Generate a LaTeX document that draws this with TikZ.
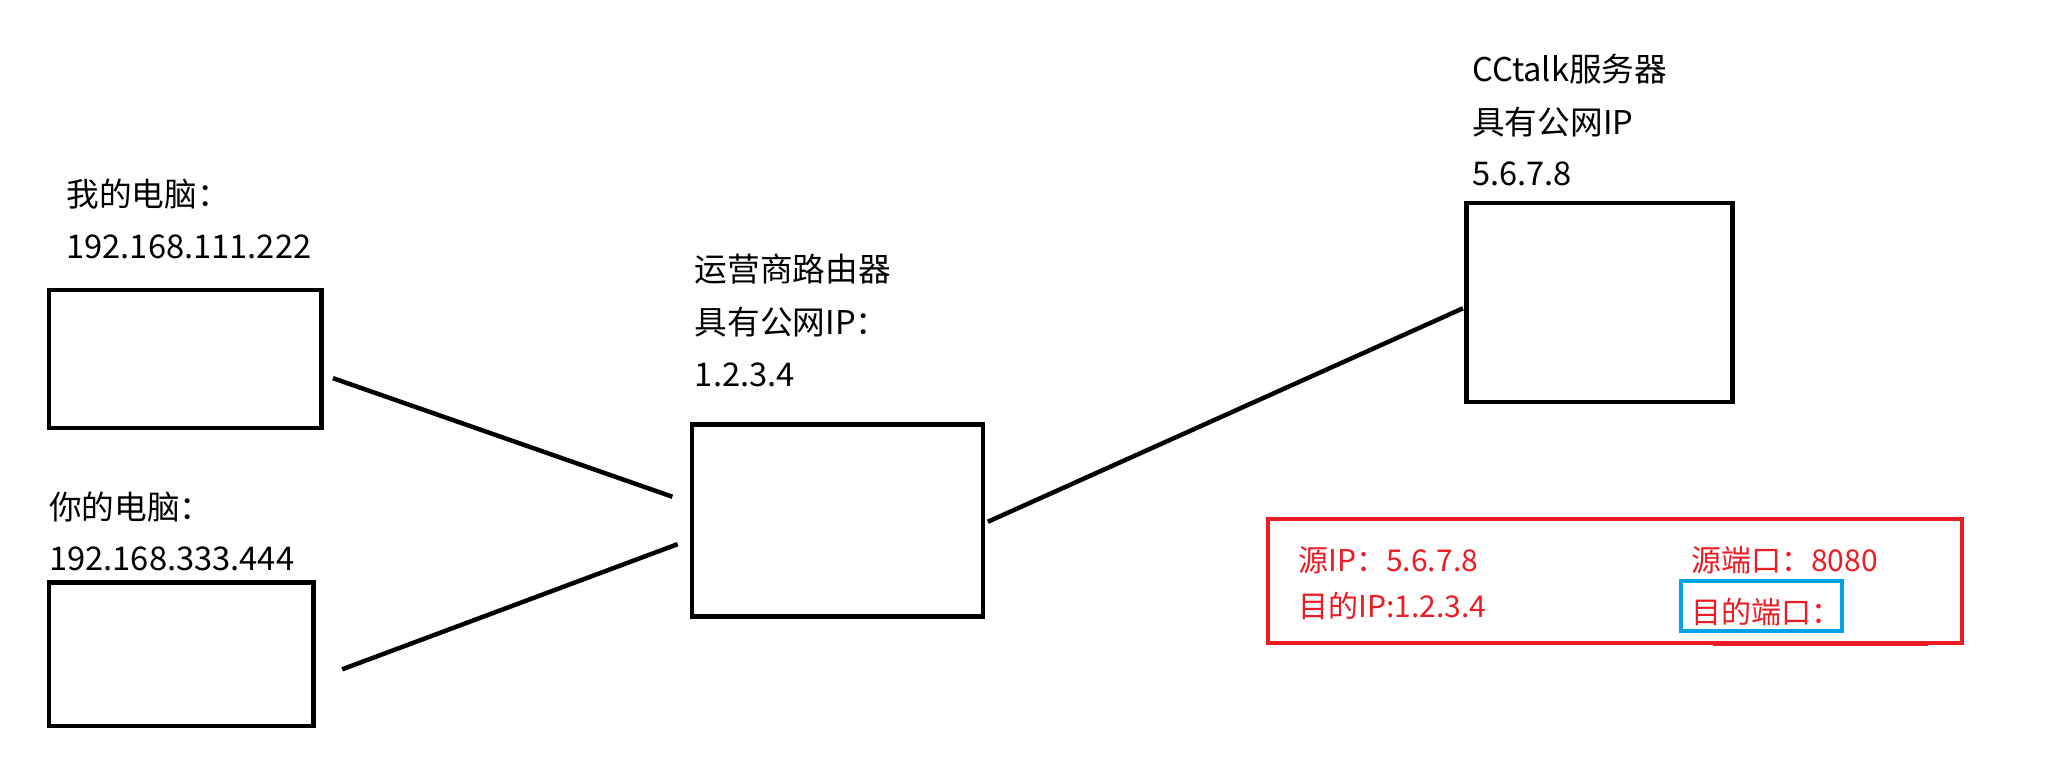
\documentclass[tikz,border=0pt]{standalone}
\usepackage{fontspec}
\setmainfont{Noto Sans CJK SC}
\definecolor{redc}{RGB}{237,28,36}
\definecolor{bluec}{RGB}{0,162,232}
\begin{document}
\begin{tikzpicture}[x=0.5pt,y=-0.5pt,
  box/.style={draw=black, line width=1.7pt, inner sep=0pt},
  lbl/.style={anchor=base west, inner sep=0pt, font=\fontsize{12.4}{14}\selectfont},
  redlbl/.style={anchor=base west, inner sep=0pt, font=\fontsize{11.4}{13}\selectfont, text=redc},
  link/.style={line width=1.7pt}]
\useasboundingbox[fill=white] (0,0) rectangle (1568,581);
% boxes
\node[box, minimum width=103.5pt, minimum height=52.5pt] (pc1) at (140.5,272.5) {};
\node[box, minimum width=100.5pt, minimum height=54.5pt] (pc2) at (137.5,496.5) {};
\node[box, minimum width=110.5pt, minimum height=73pt] (router) at (635.5,395) {};
\node[box, minimum width=101pt, minimum height=75.5pt] (server) at (1214,229.5) {};
% labels
\node[lbl] (pc1a) at (50,157) {我的电脑：};
\node[lbl] (pc1b) at (50,196) {192.168.111.222};
\node[lbl] (pc2a) at (37,394) {你的电脑：};
\node[lbl] (pc2b) at (37,433) {192.168.333.444};
\node[lbl] (ra) at (527,214) {运营商路由器};
\node[lbl] (rb) at (527,254) {具有公网IP：};
\node[lbl] (rc) at (527,293) {1.2.3.4};
\node[lbl] (sa) at (1117,62) {CCtalk服务器};
\node[lbl] (sb) at (1117,102) {具有公网IP};
\node[lbl] (sc) at (1117,141) {5.6.7.8};
% connectors
\draw[link] ([shift={(7,14.5)}]pc1.east) -- ([shift={(-13,-18)}]router.west);
\draw[link] ([shift={(20,11.5)}]pc2.east) -- ([shift={(-9,18)}]router.west);
\draw[link] ([shift={(2,1)}]router.east) -- ([shift={(-1,4.5)}]server.west);
% packet box
\node[draw=redc, line width=1.5pt, inner sep=0pt, minimum width=263.5pt, minimum height=47pt] (pkt) at (1225.5,441) {};
\draw[redc, line width=1pt] (1300,489.5) -- (1463,489.5);
\node[draw=bluec, line width=1.4pt, inner sep=0pt, minimum width=61pt, minimum height=19pt] (dport) at (1337,460) {};
\node[redlbl] (p1) at (985,434) {源IP：5.6.7.8};
\node[redlbl] (p2) at (985,469) {目的IP:1.2.3.4};
\node[redlbl] (p3) at (1283,434) {源端口：8080};
\node[redlbl] (p4) at (1283,473) {目的端口：};
\end{tikzpicture}
\end{document}
